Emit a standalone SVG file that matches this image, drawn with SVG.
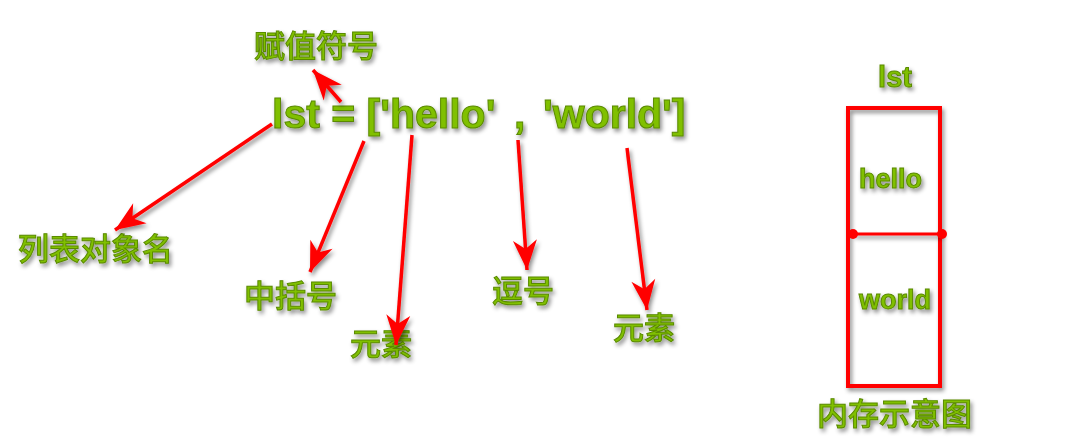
<svg xmlns="http://www.w3.org/2000/svg" width="1073" height="440" viewBox="0 0 1073 440">
<defs>
<filter id="sh" x="-20%" y="-20%" width="140%" height="140%">
<feDropShadow dx="2" dy="3" stdDeviation="2" flood-color="#000" flood-opacity="0.45"/>
</filter>
<filter id="shu" filterUnits="userSpaceOnUse" x="0" y="0" width="1073" height="440">
<feDropShadow dx="2" dy="3" stdDeviation="2" flood-color="#000" flood-opacity="0.45"/>
</filter>
<marker id="ah" viewBox="-32 -14 34 28" refX="0" refY="0" markerWidth="34" markerHeight="28" markerUnits="userSpaceOnUse" orient="auto">
<path d="M0,0 L-30,-12 L-21,0 L-30,12 Z" fill="#ff0000"/>
</marker>
<style>
.t{fill:#80c000;stroke:#5a8a00;stroke-width:1;filter:url(#sh);}
.en{font-family:"Liberation Sans",Arial,sans-serif;font-weight:bold;}
.cn{font-family:"Noto Sans CJK SC","Liberation Sans",sans-serif;font-weight:500;font-size:31px;}
.ar{stroke:#ff0000;stroke-width:3.5;fill:none;marker-end:url(#ah);filter:url(#shu);}
</style>
</defs>
<rect width="1073" height="440" fill="#fff"/>
<g id="code">
<text class="t en" x="272" y="128" font-size="41">lst = ['hello'</text>
<text class="t en" x="514" y="128" font-size="41">,</text>
<text class="t en" x="543" y="128" font-size="41">'world']</text>
</g>
<g id="label-assign"><text class="t cn" x="254" y="57" font-size="32">赋值符号</text></g>
<g id="label-name"><text class="t cn" x="18" y="260">列表对象名</text></g>
<g id="label-bracket"><text class="t cn" x="244" y="307">中括号</text></g>
<g id="label-elem1"><text class="t cn" x="350" y="355">元素</text></g>
<g id="label-comma"><text class="t cn" x="492" y="302">逗号</text></g>
<g id="label-elem2"><text class="t cn" x="613" y="339">元素</text></g>
<g id="connectors">
<line class="ar" x1="341" y1="102" x2="313" y2="70"/>
<line class="ar" x1="272" y1="124" x2="115" y2="230"/>
<line class="ar" x1="364" y1="141" x2="310" y2="272"/>
<line class="ar" x1="412" y1="135" x2="396" y2="345"/>
<line class="ar" x1="518" y1="140" x2="527" y2="270"/>
<line class="ar" x1="627" y1="148" x2="647" y2="310"/>
</g>
<g id="memory">
<text class="t en" x="895" y="87" font-size="29" text-anchor="middle">lst</text>
<rect x="848" y="108" width="92" height="278" fill="none" stroke="#ff0000" stroke-width="4" filter="url(#shu)"/>
<line x1="853" y1="234" x2="942" y2="234" stroke="#ff0000" stroke-width="3" filter="url(#shu)"/>
<circle cx="853" cy="234" r="5" fill="#ff0000"/>
<circle cx="942" cy="234" r="5" fill="#ff0000"/>
<text class="t en" x="859" y="188" font-size="27">hello</text>
<text class="t en" x="859" y="309" font-size="27">world</text>
<text class="t cn" x="817" y="425">内存示意图</text>
</g>
</svg>
